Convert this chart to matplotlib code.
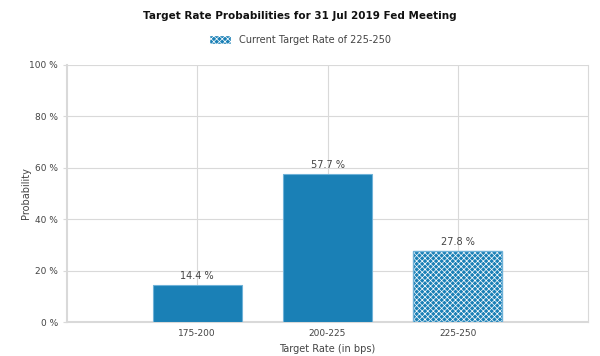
import matplotlib.pyplot as plt
from matplotlib.patches import Patch

categories = ['175-200', '200-225', '225-250']
probabilities = [14.4, 57.7, 27.8]
current_rate = '225-250'
y_ticks = [0, 20, 40, 60, 80, 100]

blue = '#1a80b6'
grid = '#d9d9d9'
text = '#444444'

plt.rcParams['hatch.linewidth'] = 0.5

fig = plt.figure(figsize=(6, 3.56), dpi=100)
ax = fig.add_axes([0.1117, 0.0955, 0.8683, 0.722])

positions = range(1, len(categories) + 1)
for pos, cat, val in zip(positions, categories, probabilities):
    if cat == current_rate:
        ax.bar(pos, val, width=0.68, color=blue, edgecolor='white', hatch='xxxxxx',
               linewidth=0, zorder=3)
        ax.bar(pos, val, width=0.68, fill=False, edgecolor='#6fb2d8', linewidth=1, zorder=4)
    else:
        ax.bar(pos, val, width=0.68, color=blue, edgecolor='#6fb2d8', linewidth=0.8, zorder=3)
    ax.text(pos, val + 1.5, f'{val} %', ha='center', va='bottom', fontsize=7, color=text)

ax.set_xlim(0, 4)
ax.set_ylim(0, 100)
ax.set_xticks(list(positions))
ax.set_xticklabels(categories)
ax.set_yticks(y_ticks)
ax.set_yticklabels([f'{t} %' for t in y_ticks])
ax.tick_params(axis='both', labelsize=6.5, colors=text, length=3, color=grid)
ax.tick_params(axis='x', length=0, pad=5)

ax.grid(True, color=grid, linewidth=0.8, zorder=0)
for side in ax.spines.values():
    side.set_color(grid)
ax.spines['top'].set_visible(False)
ax.spines['left'].set_linewidth(1.5)
ax.spines['bottom'].set_linewidth(1.5)

ax.set_xlabel('Target Rate (in bps)', fontsize=7, color=text, labelpad=4)
ax.set_ylabel('Probability', fontsize=7, color=text, labelpad=-1)

fig.text(0.5, 0.955, 'Target Rate Probabilities for 31 Jul 2019 Fed Meeting',
         ha='center', va='center', fontsize=7.5, fontweight='bold', color='#111111')

handle = Patch(facecolor=blue, edgecolor='white', hatch='xxxxxx', label='Current Target Rate of 225-250')
fig.legend(handles=[handle], loc='center', bbox_to_anchor=(0.5, 0.888), frameon=False,
           fontsize=7, handlelength=2.2, handleheight=1.0, labelcolor=text)

plt.savefig('out.png', dpi=100)
